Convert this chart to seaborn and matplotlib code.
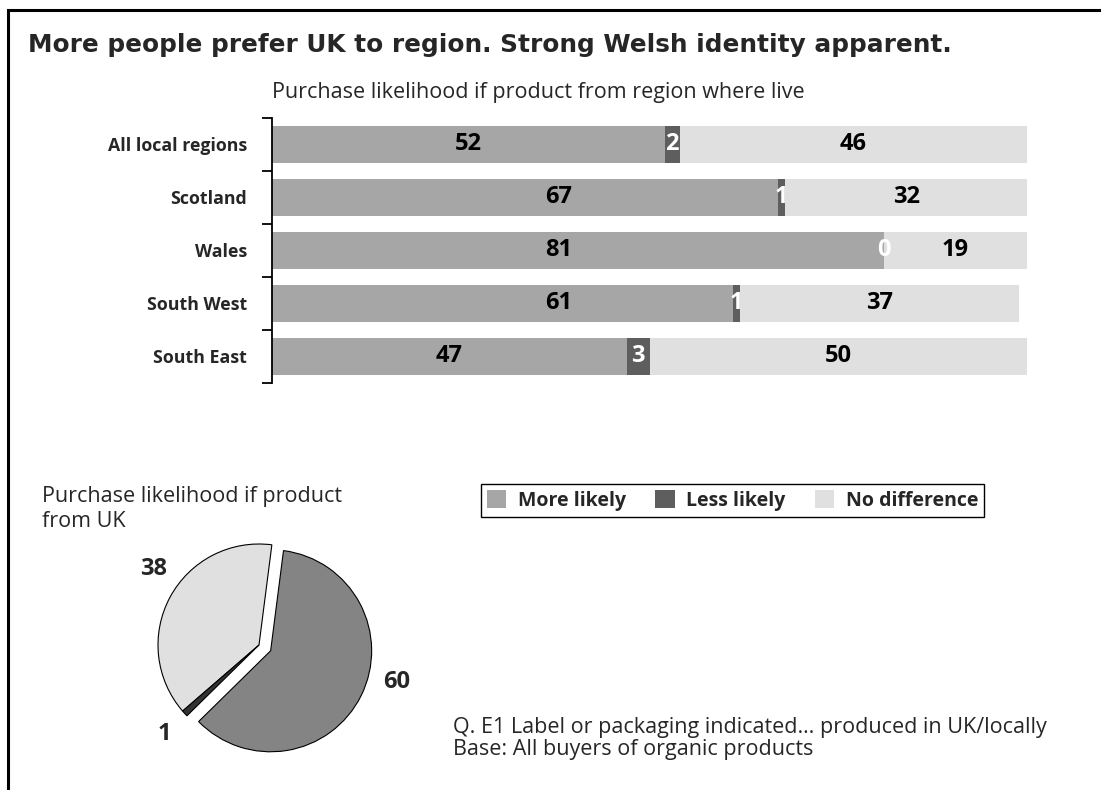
import numpy as np
import pandas as pd
import matplotlib
matplotlib.use("Agg")
import matplotlib.pyplot as plt
import seaborn as sns
from matplotlib.patches import Patch, Rectangle

# ---- data ----
categories = ["All local regions", "Scotland", "Wales", "South West", "South East"]
more_likely = [52, 67, 81, 61, 47]
less_likely = [2, 1, 0, 1, 3]
no_difference = [46, 32, 19, 37, 50]

pie_labels = ["60", "38", "1"]
pie_values = [60, 38, 1]          # More likely, No difference, Less likely (UK)

series_names = ["More likely", "Less likely", "No difference"]
title = "More people prefer UK to region. Strong Welsh identity apparent."
subtitle = "Purchase likelihood if product from region where live"
pie_title_lines = ["Purchase likelihood if product", "from UK"]
footnote_lines = ["Q. E1 Label or packaging indicated\u2026 produced in UK/locally",
                  "Base: All buyers of organic products"]

# ---- style ----
sns.set_theme(style="white")
plt.rcParams["font.family"] = ["Open Sans", "DejaVu Sans"]
C_MORE, C_LESS, C_NODIFF = "#a6a6a6", "#5e5e5e", "#e0e0e0"
PIE_COLORS = ["#848484", "#e0e0e0", "#333333"]
LONG_BAR = 60        # labels of long "more likely" bars sit at a fixed spot
LONG_BAR_POS = 38
VAL_FS = 17
TXT_FS = 15.5

W, H = 1101, 790
fig = plt.figure(figsize=(W / 100, H / 100), dpi=100)
fig.patch.set_facecolor("white")

def fx(px): return px / W
def fy(py): return 1 - py / H

# frame (only top/left visible in reference)
fig.patches.append(Rectangle((fx(7.5), fy(H + 20)), fx(W + 40), (H + 20 - 10.5) / H,
                             transform=fig.transFigure, fill=False,
                             edgecolor="black", lw=2.2, clip_on=False))

fig.text(fx(28), fy(52), title, family="DejaVu Sans", fontweight="bold",
         fontsize=17.8, va="baseline", ha="left")
fig.text(fx(272), fy(98), subtitle, fontsize=TXT_FS, va="baseline", ha="left")

# ---- stacked bars ----
df = pd.DataFrame({"cat": categories, "more": more_likely,
                   "less": less_likely, "nodiff": no_difference})
df["cum_less"] = df["more"] + df["less"]
df["cum_all"] = df["cum_less"] + df["nodiff"]

ax = fig.add_axes([fx(272), fy(383), fx(1027) - fx(272), (383 - 118) / H])
sns.barplot(data=df, x="cum_all", y="cat", color=C_NODIFF, width=0.7,
            saturation=1, ax=ax, linewidth=0)
sns.barplot(data=df, x="cum_less", y="cat", color=C_LESS, width=0.7,
            saturation=1, ax=ax, linewidth=0)
sns.barplot(data=df, x="more", y="cat", color=C_MORE, width=0.7,
            saturation=1, ax=ax, linewidth=0)
ax.set_xlim(0, 100)
ax.set_ylim(4.5, -0.5)
ax.set_xlabel("")
ax.set_ylabel("")
ax.xaxis.set_visible(False)
for s in ["top", "right", "bottom"]:
    ax.spines[s].set_visible(False)
ax.spines["left"].set_color("black")
ax.spines["left"].set_linewidth(1.3)
ax.set_yticks(range(len(categories)))
ax.set_yticklabels(categories, fontsize=12.8, fontweight="bold")
ax.tick_params(axis="y", which="major", length=0, pad=18)
ax.set_yticks(np.arange(-0.5, len(categories), 1.0), minor=True)
ax.tick_params(axis="y", which="minor", length=7, width=1.3, color="black",
               direction="out", left=True)

for i, row in df.iterrows():
    mx = LONG_BAR_POS if row["more"] > LONG_BAR else row["more"] / 2
    ax.text(mx, i, f"{row['more']}", ha="center",
            va="center", fontsize=VAL_FS, fontweight="bold", color="black")
    ax.text(row["more"] + row["less"] / 2, i, f"{row['less']}", ha="center",
            va="center", fontsize=VAL_FS, fontweight="bold", color="white")
    ax.text(row["cum_less"] + row["nodiff"] / 2, i, f"{row['nodiff']}",
            ha="center", va="center", fontsize=VAL_FS, fontweight="bold",
            color="black")

# ---- pie ----
for k, line in enumerate(pie_title_lines):
    fig.text(fx(42), fy(502 + 25 * k), line, fontsize=TXT_FS, va="baseline",
             ha="left")
S = 300
pax = fig.add_axes([fx(259 - S / 2), fy(645 + S / 2), S / W, S / H])
wedges, _ = pax.pie(pie_values, colors=PIE_COLORS,
                    startangle=-135.5, counterclock=True,
                    explode=[0.13, 0, 0], radius=1.01,
                    wedgeprops=dict(edgecolor="black", linewidth=0.8))
label_angles = [-14, 144, 223]
label_r = 1.3
for w, lab, ang in zip(wedges, pie_labels, label_angles):
    cx, cy = w.center
    pax.text(cx + label_r * np.cos(np.radians(ang)),
             cy + label_r * np.sin(np.radians(ang)), lab,
             ha="center", va="center", fontsize=VAL_FS, fontweight="bold")
pax.set_xlim(-1.5, 1.5)
pax.set_ylim(-1.5, 1.5)
pax.set_aspect("equal")
pax.axis("off")

# ---- legend ----
handles = [Patch(facecolor=c, edgecolor="none") for c in (C_MORE, C_LESS, C_NODIFF)]
leg = fig.legend(handles, series_names, loc="center",
                 bbox_to_anchor=(fx(732.5), fy(500.5)), ncol=3, frameon=True,
                 fancybox=False, edgecolor="black", framealpha=1,
                 prop=dict(size=14, weight="bold"), handlelength=1.0,
                 handleheight=1.0, handletextpad=0.6, columnspacing=1.5,
                 borderpad=0.3, borderaxespad=0)
leg.get_frame().set_linewidth(1.0)

for k, line in enumerate(footnote_lines):
    fig.text(fx(453), fy(733 + 22 * k), line, fontsize=TXT_FS, va="baseline",
             ha="left")

fig.savefig("out.png", dpi=100)
